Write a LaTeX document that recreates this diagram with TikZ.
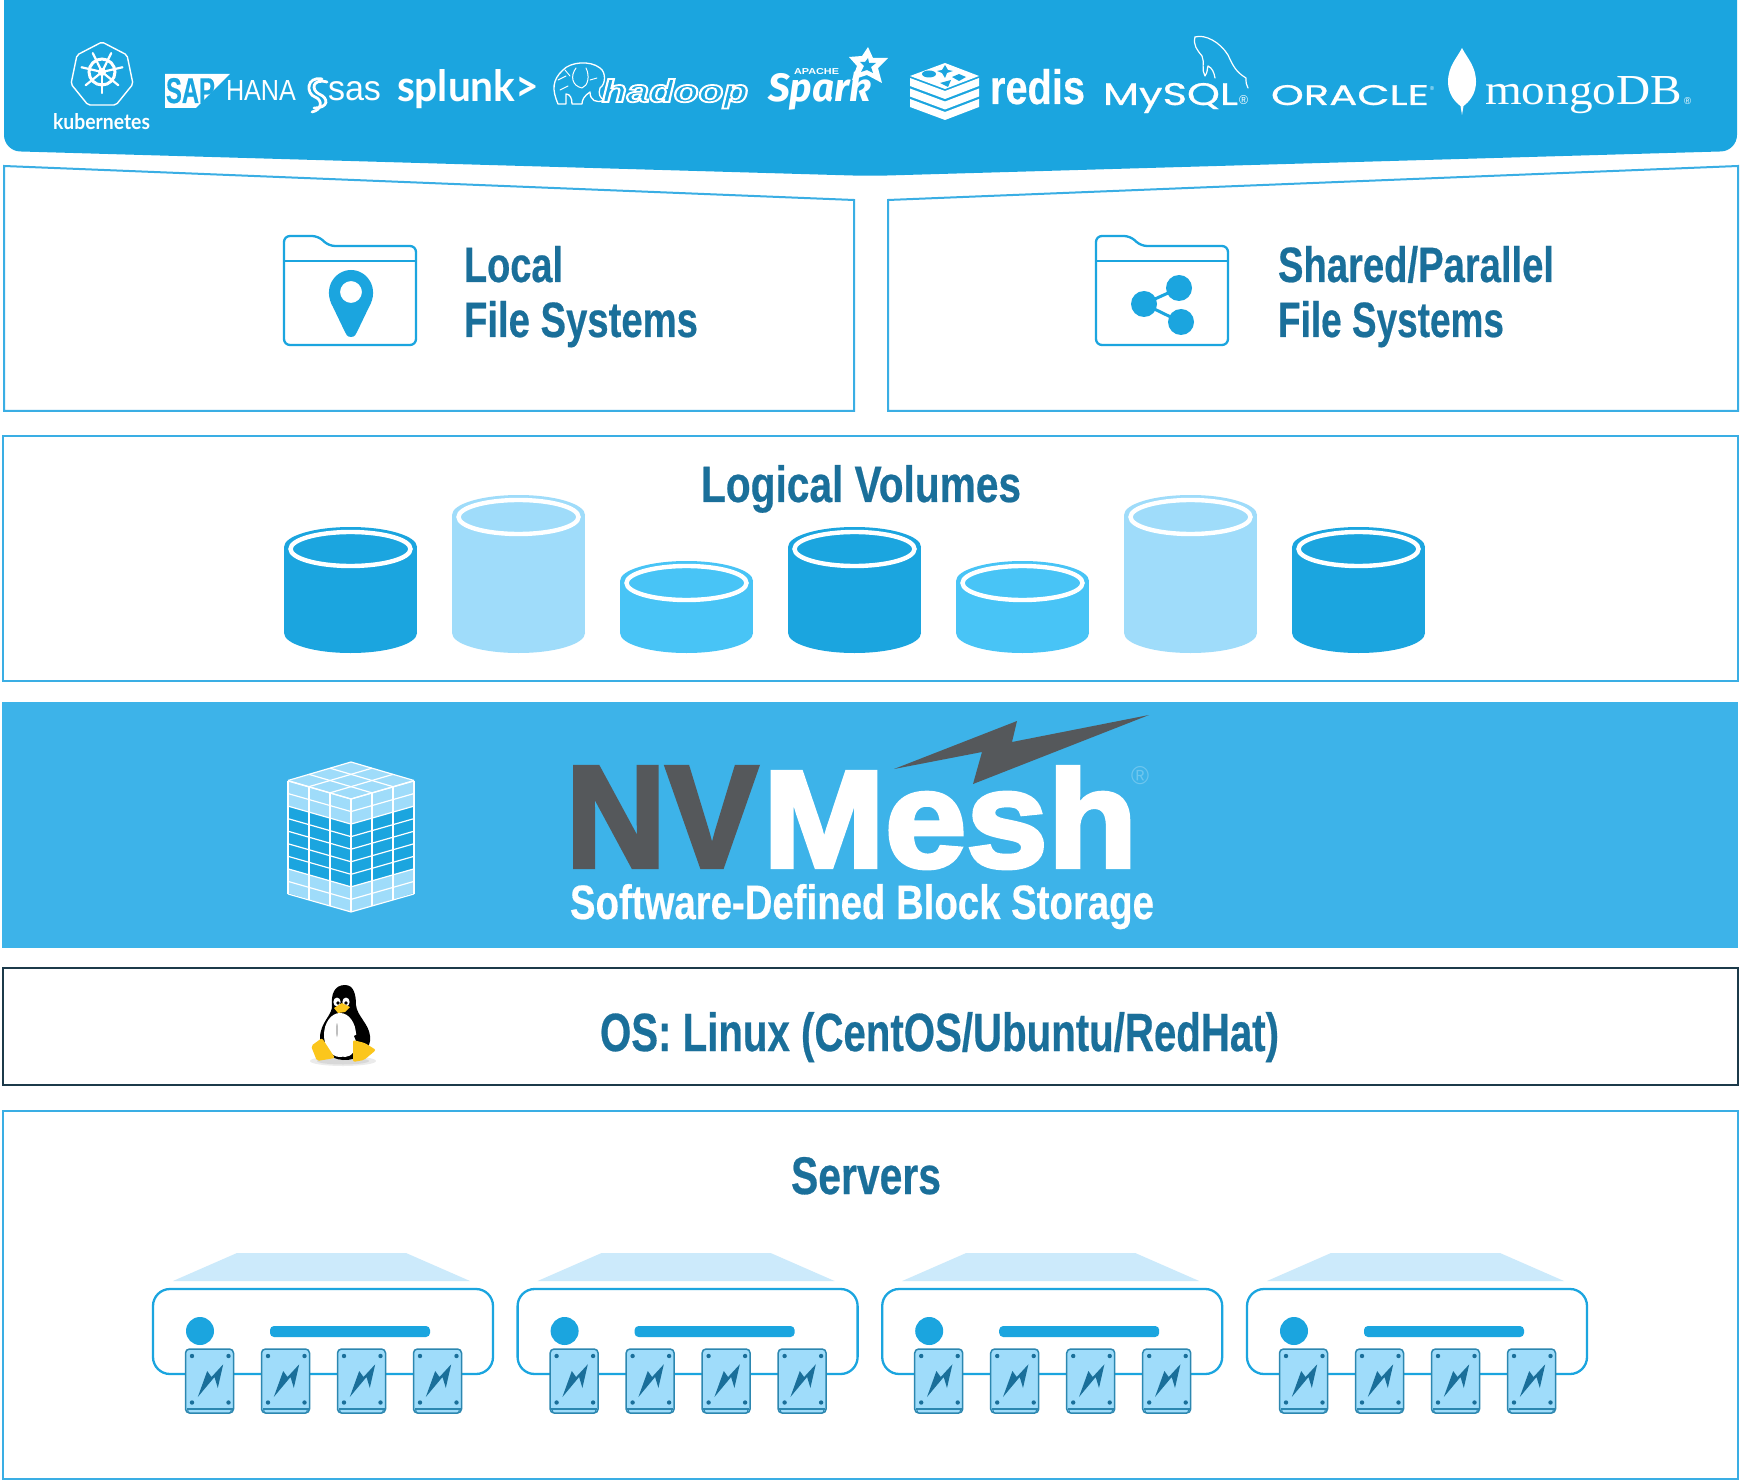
\documentclass[tikz,border=0pt]{standalone}
\usepackage{fontspec}
\usepackage{graphicx}
\setmainfont{Liberation Sans}
\newfontfamily\heavy[BoldFeatures={FakeBold=3}]{Liberation Sans}
\newfontfamily\semi[BoldFeatures={FakeBold=0.5}]{Liberation Sans}
\newfontfamily\lato{Lato}
\newfontfamily\fira{Fira Sans}
\newfontfamily\seriff{Liberation Serif}
\newfontfamily\pop[FakeBold=0.7]{Poppins}
\newdimen\pxu \pxu=0.5pt
\newcommand\fit[3]{\resizebox{#1\pxu}{#2\pxu}{#3}}
\definecolor{hdr}{HTML}{1BA5DF}
\definecolor{band}{HTML}{3DB3E9}
\definecolor{frameb}{HTML}{3AAEE4}
\definecolor{heading}{HTML}{1A6F9A}
\definecolor{ink}{HTML}{55585B}
\definecolor{lite}{HTML}{9FDCFA}
\definecolor{midb}{HTML}{48C4F6}
\definecolor{pale}{HTML}{CCEAFB}
\definecolor{osline}{HTML}{1C3A4A}
\definecolor{driveln}{HTML}{2C87B0}
\definecolor{penyel}{HTML}{FBC61C}
\tikzset{
  lbl/.style={anchor=base west,inner sep=0pt,outer sep=0pt},
  frameline/.style={draw=frameb,line width=1pt,fill=white},
  head/.style={lbl,text=heading,font=\semi\bfseries},
  logo/.style={lbl,text=white},
  logoline/.style={draw=white,line width=0.7pt,line join=round,line cap=round},
  iconline/.style={draw=hdr,line width=1.15pt,line join=round},
}
\newcommand\cyl[3]{%
  \fill[#3] (#1,653-20) ellipse [x radius=66.5,y radius=20];
  \fill[#3] (#1-66.5,#2) rectangle (#1+66.5,633);
  \fill[#3] (#1,#2) ellipse [x radius=66.5,y radius=20];
  \draw[white,line width=2.2pt] (#1,#2+2) ellipse [x radius=60,y radius=17];
}
\begin{document}
\begin{tikzpicture}[x=0.5pt,y=-0.5pt]
\useasboundingbox (0,0) rectangle (1740,1481);
\fill[white] (0,0) rectangle (1740,1481);
% header
\fill[hdr,rounded corners=8pt] (4,-30) -- (4,151) -- (870,176) -- (1737,151) -- (1737,-30) -- cycle;
% kubernetes
\draw[logoline,rounded corners=1pt] (102,42) -- (127,55) -- (133,84) -- (116,105) -- (88,105) -- (71,84) -- (77,55) -- cycle;
\draw[white,line width=1.5pt] (102,72) circle (13);
\fill[white] (102,72) circle (4);
\foreach \a in {90,141,193,244,296,347,39}{
  \draw[white,line width=1.1pt,line cap=round] (102,72) -- ++({\a}:21);
}
\node[logo] (k8s) at (53,130) {\fit{97}{16}{\lato\bfseries kubernetes}};
% SAP
\fill[white] (165,74) -- (230,74) -- (196,108) -- (165,108) -- cycle;
\node[lbl,text=hdr] (sap) at (166,103) {\fit{49}{25}{\semi\bfseries SAP}};
\node[logo] (hana) at (226,101) {\fit{70}{20}{HANA}};
% sas
\draw[white,line width=1.4pt,line cap=round] (327,82) .. controls (312,78) and (311,90) .. (319,94) .. controls (329,98) and (329,108) .. (314,108);
\draw[white,line width=1.4pt,line cap=round] (322,79) .. controls (306,76) and (306,94) .. (315,97) .. controls (323,100) and (322,110) .. (312,112);
\node[logo] (sas) at (328,101) {\fit{53}{19}{sas}};
% splunk
\node[logo] (splunk) at (397,102) {\fit{142}{32}{\lato\bfseries splunk>}};
% hadoop
\draw[logoline,line width=0.65pt,fill=hdr] (563,70) .. controls (570,62) and (590,60) .. (600,68) .. controls (606,72) and (606,84) .. (600,88) .. controls (598,94) and (600,98) .. (604,100) .. controls (596,104) and (590,100) .. (590,92) .. controls (584,96) and (582,100) .. (582,104) -- (572,104) .. controls (572,98) and (570,94) .. (566,94) -- (566,104) -- (558,104) .. controls (552,90) and (552,80) .. (563,70) -- cycle;
\draw[logoline,line width=0.5pt] (576,68) .. controls (570,76) and (572,86) .. (582,88) .. controls (588,86) and (590,76) .. (586,68);
\draw[logoline,line width=0.45pt] (558,80) -- (566,76) (560,90) -- (568,86) (565,70) -- (570,76) (590,80) -- (597,78);
\node[logo] (hadoop) at (602,102) {\fit{146}{23}{\color{white}\special{pdf:code 1 Tr 0.55 w}\bfseries\itshape hadoop\special{pdf:code 0 Tr}}};
% spark
\node[logo] (spark) at (768,102) {\fit{103}{30}{\fira\bfseries\itshape Spark}};
\node[logo] (apache) at (794,75) {\fit{45}{6}{\bfseries APACHE}};
\fill[white] (868,47) -- (873,58) -- (888,58) -- (878,68) -- (882,83) -- (867,75) -- (852,80) -- (857,66) -- (849,57) -- (862,56) -- cycle;
\fill[hdr] (868,58) -- (869,63) -- (876,63) -- (871,67) -- (873,73) -- (867,70) -- (861,72) -- (864,66) -- (860,62) -- (865,62) -- cycle;
% redis
\foreach \yy in {78,88.5,99}{
  \fill[white] (910,\yy) -- (945,\yy+13) -- (979,\yy) -- (979,\yy+8) -- (945,\yy+21) -- (910,\yy+8) -- cycle;
}
\fill[white] (945,63) -- (979,76) -- (945,89) -- (910,76) -- cycle;
\fill[hdr] (929,74) ellipse [x radius=7,y radius=3.5];
\fill[hdr] (945,65) -- (948,70) -- (953,71) -- (947,73) -- (945,78) -- (942,73) -- (937,71) -- (942,70) -- cycle;
\fill[hdr] (959,74) -- (966,77) -- (959,81) -- (952,77) -- cycle;
\fill[hdr] (940,83) -- (951,80) -- (948,87) -- cycle;
\node[logo] (redis) at (990,104) {\fit{95}{35}{\semi\bfseries redis}};
% mysql
\node[logo] (mysql) at (1103,105) {\fit{135}{22}{\pop MySQL}};
\node[logo] (mysqlr) at (1239,105) {\fit{9}{9}{®}};
\draw[logoline,line width=0.6pt] (1195,37) .. controls (1205,34) and (1220,42) .. (1228,55) .. controls (1233,66) and (1236,72) .. (1246,78) .. controls (1246,82) and (1246,85) .. (1248,88);
\draw[logoline,line width=0.6pt] (1195,37) .. controls (1193,45) and (1197,50) .. (1202,56) .. controls (1205,62) and (1201,70) .. (1205,76) .. controls (1208,72) and (1207,68) .. (1208,66) .. controls (1212,68) and (1214,72) .. (1215,78);
% oracle
\node[logo] (oracle) at (1271,105) {\fit{158}{20}{\pop ORACLE}};
\node[logo] (oracler) at (1430,91) {\fit{4}{4}{®}};
% mongo
\fill[white] (1462,48) .. controls (1457,58) and (1448,66) .. (1448,82) .. controls (1448,94) and (1455,102) .. (1460.5,106) -- (1462,115) -- (1463.5,106) .. controls (1469,102) and (1476,94) .. (1476,82) .. controls (1476,66) and (1467,58) .. (1462,48) -- cycle;
\node[logo] (mongo) at (1485,105) {\fit{197}{28}{\seriff mongoDB}};
\node[logo] (mongor) at (1684,105) {\fit{7}{7}{®}};

% file system frames
\draw[frameline] (4,166) -- (854,200) -- (854,411) -- (4,411) -- cycle;
\draw[frameline] (888,200) -- (1738,166) -- (1738,411) -- (888,411) -- cycle;
\foreach \fx in {0,812}{
\begin{scope}[shift={(\fx,0)}]
  \draw[iconline,rounded corners=3pt] (284,261) -- (284,236) -- (318,236) -- (329,246) -- (416,246) -- (416,345) -- (284,345) -- (284,261);
  \draw[iconline] (284,261) -- (416,261);
\end{scope}}
% pin
\fill[hdr,even odd rule] (351,337) .. controls (347,337) and (346,334) .. (345,332) -- (333,307) .. controls (322,288) and (335,270) .. (351,270) .. controls (367,270) and (380,288) .. (369,307) -- (357,332) .. controls (356,334) and (355,337) .. (351,337) -- cycle (351,292) circle (11);
% share
\draw[hdr,line width=1.5pt] (1179,288) -- (1144,304) -- (1181,322);
\fill[hdr] (1179,288) circle (13);
\fill[hdr] (1144,304) circle (13);
\fill[hdr] (1181,322) circle (13);
\node[head] (local) at (464,282) {\fit{99}{36}{Local}};
\node[head] (fs1) at (464,337) {\fit{234}{36}{File Systems}};
\node[head] (shared) at (1278,282) {\fit{276}{36}{Shared/Parallel}};
\node[head] (fs2) at (1278,337) {\fit{226}{36}{File Systems}};

% logical volumes
\draw[frameline] (3,436) rectangle (1738,681);
\node[head] (lv) at (701,502) {\fit{320}{37}{Logical Volumes}};
\cyl{350.5}{547}{hdr}
\cyl{518.5}{515}{lite}
\cyl{686.5}{581}{midb}
\cyl{854.5}{547}{hdr}
\cyl{1022.5}{581}{midb}
\cyl{1190.5}{515}{lite}
\cyl{1358.5}{547}{hdr}

% NVMesh band
\fill[band] (2,702) rectangle (1738,948);
\fill[lite] (351,762) -- (414,781) -- (414,893) -- (351,912) -- (288,893) -- (288,781) -- cycle;
\foreach \i in {0,1,2}{\foreach \j in {2,...,6}{
  \fill[hdr] ({288+21*\i},{781+6*\i+12.55*\j}) -- ++(21,6) -- ++(0,12.55) -- ++(-21,-6) -- cycle;
  \fill[hdr] ({351+21*\i},{799-6*\i+12.55*\j}) -- ++(21,-6) -- ++(0,12.55) -- ++(-21,6) -- cycle;
}}
\foreach \j in {0,...,9}{
  \draw[white,line width=0.6pt] (288,{781+12.55*\j}) -- (351,{799+12.55*\j}) -- (414,{781+12.55*\j});
}
\foreach \i in {0,1,2,3}{
  \draw[white,line width=0.6pt] ({288+21*\i},{781+6*\i}) -- ++(0,113);
  \draw[white,line width=0.6pt] ({351+21*\i},{799-6*\i}) -- ++(0,113);
  \draw[white,line width=0.6pt] ({351+21*\i},{762+6.17*\i}) -- ++(-63,18.5);
  \draw[white,line width=0.6pt] ({351-21*\i},{762+6.17*\i}) -- ++(63,18.5);
}
\node[lbl,text=ink] (nv) at (566,867) {\fit{192}{100}{\heavy\bfseries NV}};
\node[logo] (mesh) at (763,867) {\fit{374}{100}{\heavy\bfseries Mesh}};
\fill[ink] (894,769) -- (1017,721) -- (1012,742) -- (1149,715) -- (973,784) -- (982,752) -- cycle;
\node[lbl,text=white,opacity=0.25] (reg) at (1131,784) {\fit{18}{18}{®}};
\node[logo] (sw) at (570,919) {\fit{584}{35}{\semi\bfseries Software-Defined Block Storage}};

% OS
\draw[draw=osline,line width=1pt,fill=white] (3,968) rectangle (1738,1085);
\fill[black,opacity=0.08] (343,1061) ellipse [x radius=33,y radius=5];
\fill[black,opacity=0.08] (343,1061) ellipse [x radius=26,y radius=3.5];
\fill[black] (345,985) .. controls (334,985) and (331,995) .. (332,1005) .. controls (333,1015) and (320,1022) .. (320,1038) .. controls (320,1050) and (330,1059) .. (343,1060) .. controls (358,1061) and (372,1050) .. (370,1036) .. controls (369,1024) and (357,1016) .. (356,1005) .. controls (356,995) and (354,985) .. (345,985) -- cycle;
\fill[white] (340,1035) ellipse [x radius=16,y radius=22];
\fill[white] (345,1040) ellipse [x radius=12,y radius=17];
\fill[black!25] (337,1030) ellipse [x radius=1,y radius=7];
\fill[white] (337,1002) ellipse [x radius=3.6,y radius=4.5];
\fill[white] (346,1002) ellipse [x radius=3.6,y radius=4.5];
\fill[black] (338,1003) circle (1.8);
\fill[black] (346,1003) circle (1.8);
\fill[penyel] (334,1008) -- (342,1003) -- (350,1007) -- (345,1012) -- (338,1013) -- cycle;
\fill[black] (354,1036) .. controls (358,1032) and (366,1034) .. (368,1042) -- (358,1046) -- cycle;
\fill[penyel,rounded corners=1pt] (311,1046) -- (322,1038) -- (335,1058) -- (317,1061) -- cycle;
\fill[penyel,rounded corners=1pt] (353,1040) -- (365,1043) -- (376,1050) -- (364,1060) -- (353,1062) -- cycle;
\node[head] (os) at (600,1051) {\fit{679}{39}{OS: Linux (CentOS/Ubuntu/RedHat)}};

% servers
\draw[frameline] (3,1111) rectangle (1738,1479);
\node[head] (srv) at (791,1194) {\fit{150}{37}{Servers}};
\foreach \sx in {0,364.6,729.2,1094}{
\begin{scope}[shift={(\sx,0)}]
  \fill[pale] (173,1281) -- (237,1253) -- (406,1253) -- (470,1281) -- cycle;
  \draw[iconline,rounded corners=8.5pt] (153,1289) rectangle (493,1374);
  \fill[hdr] (200,1331) circle (14);
  \fill[hdr,rounded corners=2pt] (270,1326) rectangle (430,1337);
  \foreach \dx in {0,76,152,228}{
  \begin{scope}[shift={(185.5+\dx,1349)}]
    \draw[draw=driveln,fill=lite,line width=0.75pt,rounded corners=2pt] (0,0) rectangle (48,64);
    \draw[draw=driveln,line width=0.6pt] (1,60) -- (47,60);
    \draw[draw=driveln,line width=0.5pt] (2,60) -- (3,64);
    \draw[draw=driveln,line width=0.5pt] (46,60) -- (45,64);
    \foreach \px/\py in {6.5/7,43/7,6.5/53.5,43/53.5}{\fill[heading] (\px,\py) circle (2.2);}
    \fill[heading] (37.7,15.3) -- (32.3,39) -- (29,28) -- (12.3,48) -- (21.7,22) -- (26,28) -- cycle;
  \end{scope}}
\end{scope}}
\end{tikzpicture}
\end{document}
